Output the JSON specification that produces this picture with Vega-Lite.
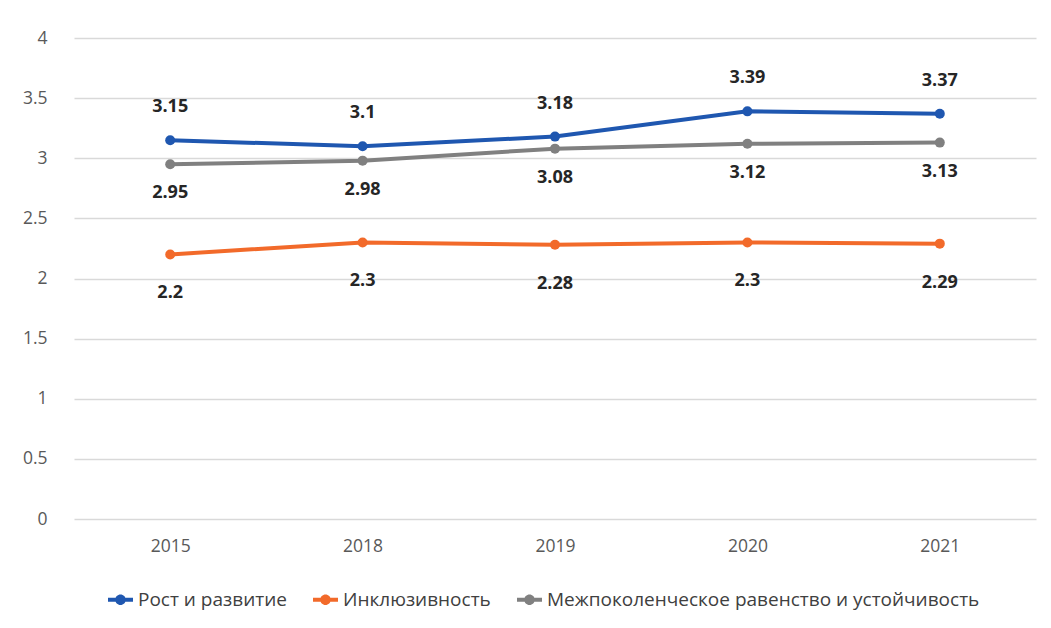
{
  "$schema": "https://vega.github.io/schema/vega-lite/v6.json",
  "autosize": "none",
  "width": 962,
  "height": 481,
  "padding": {"left": 74, "top": 38, "right": 15, "bottom": 109},
  "background": "white",
  "config": {
    "view": {"stroke": null},
    "font": "Open Sans"
  },
  "data": {
    "values": [
      {"year": "2015", "series": "Рост и развитие", "value": 3.15},
      {"year": "2018", "series": "Рост и развитие", "value": 3.1},
      {"year": "2019", "series": "Рост и развитие", "value": 3.18},
      {"year": "2020", "series": "Рост и развитие", "value": 3.39},
      {"year": "2021", "series": "Рост и развитие", "value": 3.37},
      {"year": "2015", "series": "Инклюзивность", "value": 2.2},
      {"year": "2018", "series": "Инклюзивность", "value": 2.3},
      {"year": "2019", "series": "Инклюзивность", "value": 2.28},
      {"year": "2020", "series": "Инклюзивность", "value": 2.3},
      {"year": "2021", "series": "Инклюзивность", "value": 2.29},
      {"year": "2015", "series": "Межпоколенческое равенство и устойчивость", "value": 2.95},
      {"year": "2018", "series": "Межпоколенческое равенство и устойчивость", "value": 2.98},
      {"year": "2019", "series": "Межпоколенческое равенство и устойчивость", "value": 3.08},
      {"year": "2020", "series": "Межпоколенческое равенство и устойчивость", "value": 3.12},
      {"year": "2021", "series": "Межпоколенческое равенство и устойчивость", "value": 3.13}
    ]
  },
  "encoding": {
    "x": {
      "field": "year", "type": "ordinal", "sort": null,
      "scale": {"type": "point", "padding": 0.5},
      "axis": {
        "title": null, "domain": false, "ticks": false, "grid": false,
        "labelAngle": 0, "labelFontSize": 17.5, "labelColor": "#595959",
        "labelPadding": 18
      }
    },
    "y": {
      "field": "value", "type": "quantitative",
      "scale": {"domain": [0, 4], "nice": false},
      "axis": {
        "title": null, "domain": false, "ticks": false, "format": "~g",
        "values": [0, 0.5, 1, 1.5, 2, 2.5, 3, 3.5, 4],
        "labelFontSize": 17.5, "labelColor": "#595959", "labelPadding": 27,
        "gridColor": "#d9d9d9", "gridWidth": 1.3
      }
    },
    "color": {
      "field": "series", "type": "nominal",
      "scale": {
        "domain": ["Рост и развитие", "Инклюзивность", "Межпоколенческое равенство и устойчивость"],
        "range": ["#1f57b0", "#f26a2a", "#808080"]
      },
      "legend": {
        "title": null, "orient": "none", "direction": "horizontal",
        "legendX": 34, "legendY": 549,
        "symbolType": "M-1,-0.16H1V0.16H-1Z M0.42,0 A0.42,0.42 0 1,1 -0.42,0 A0.42,0.42 0 1,1 0.42,0Z",
        "symbolSize": 625, "symbolStrokeWidth": 0, "symbolOpacity": 1,
        "labelFontSize": 19, "labelColor": "#404040", "labelOffset": 5,
        "columnPadding": 26, "labelLimit": 700
      }
    }
  },
  "layer": [
    {"mark": {"type": "line", "strokeWidth": 4}},
    {"mark": {"type": "point", "filled": true, "size": 100, "opacity": 1}},
    {
      "transform": [{"filter": "datum.series === 'Рост и развитие'"}],
      "mark": {"type": "text", "dy": -33, "fontSize": 18, "fontWeight": "bold"},
      "encoding": {"text": {"field": "value", "type": "quantitative"}, "color": {"value": "#262626"}}
    },
    {
      "transform": [{"filter": "datum.series === 'Инклюзивность'"}],
      "mark": {"type": "text", "dy": 39, "fontSize": 18, "fontWeight": "bold"},
      "encoding": {"text": {"field": "value", "type": "quantitative"}, "color": {"value": "#262626"}}
    },
    {
      "transform": [{"filter": "datum.series === 'Межпоколенческое равенство и устойчивость'"}],
      "mark": {"type": "text", "dy": 29, "fontSize": 18, "fontWeight": "bold"},
      "encoding": {"text": {"field": "value", "type": "quantitative"}, "color": {"value": "#262626"}}
    }
  ]
}
